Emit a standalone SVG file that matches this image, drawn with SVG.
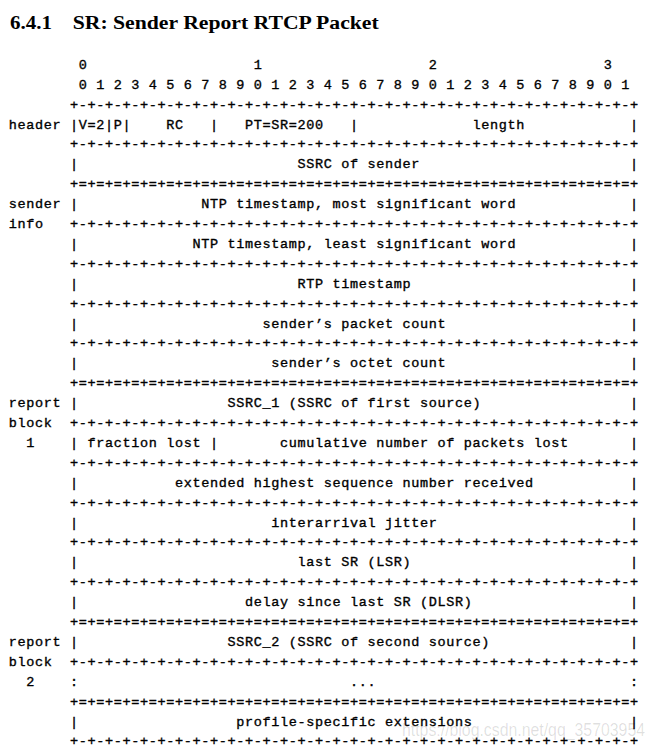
<svg xmlns="http://www.w3.org/2000/svg" xmlns:xlink="http://www.w3.org/1999/xlink" width="655" height="750" viewBox="0 0 655 750">
<style>
.m{font-family:"Liberation Mono","DejaVu Sans Mono",monospace;font-size:13.5px;letter-spacing:0.65px;fill:#000;stroke:#000;stroke-width:0.35px;white-space:pre}
.t{font-family:"Liberation Serif","Times New Roman",serif;font-size:18px;font-weight:bold;fill:#000}
.wm{font-family:"Liberation Sans",Arial,sans-serif;font-size:18px;fill:#000;fill-opacity:0.13}
</style>
<defs>
<text id="dash" class="m" x="69.95">+-+-+-+-+-+-+-+-+-+-+-+-+-+-+-+-+-+-+-+-+-+-+-+-+-+-+-+-+-+-+-+-+</text>
<text id="eq" class="m" x="69.95">+=+=+=+=+=+=+=+=+=+=+=+=+=+=+=+=+=+=+=+=+=+=+=+=+=+=+=+=+=+=+=+=+</text>
</defs>
<rect width="655" height="750" fill="#fff"/>
<g id="title">
<text class="t" x="10" y="29" textLength="42" lengthAdjust="spacingAndGlyphs">6.4.1</text>
<text class="t" x="72.7" y="29" textLength="306" lengthAdjust="spacingAndGlyphs">SR: Sender Report RTCP Packet</text>
</g>
<g id="bit-ruler">
<text class="m" x="78.7" y="68.8">0</text>
<text class="m" x="253.7" y="68.8">1</text>
<text class="m" x="428.7" y="68.8">2</text>
<text class="m" x="603.7" y="68.8">3</text>
<text class="m" x="78.7" y="88.7" xml:space="preserve">0 1 2 3 4 5 6 7 8 9 0 1 2 3 4 5 6 7 8 9 0 1 2 3 4 5 6 7 8 9 0 1</text>
</g>
<g id="connectors">
<use xlink:href="#dash" y="108.6"/>
<use xlink:href="#dash" y="148.4"/>
<use xlink:href="#eq" y="188.2"/>
<use xlink:href="#dash" y="228.0"/>
<use xlink:href="#dash" y="267.8"/>
<use xlink:href="#dash" y="307.6"/>
<use xlink:href="#dash" y="347.4"/>
<use xlink:href="#eq" y="387.2"/>
<use xlink:href="#dash" y="427.0"/>
<use xlink:href="#dash" y="466.8"/>
<use xlink:href="#dash" y="506.6"/>
<use xlink:href="#dash" y="546.4"/>
<use xlink:href="#dash" y="586.2"/>
<use xlink:href="#eq" y="626.0"/>
<use xlink:href="#dash" y="665.8"/>
<use xlink:href="#eq" y="705.6"/>
<use xlink:href="#dash" y="745.4"/>
</g>
<g id="labels">
<text class="m" x="8.7" y="128.5">header</text>
<text class="m" x="8.7" y="208.1">sender</text>
<text class="m" x="8.7" y="228.0">info</text>
<text class="m" x="8.7" y="407.1">report</text>
<text class="m" x="8.7" y="427.0">block</text>
<text class="m" x="26.2" y="446.9">1</text>
<text class="m" x="8.7" y="645.9">report</text>
<text class="m" x="8.7" y="665.8">block</text>
<text class="m" x="26.2" y="685.7">2</text>
</g>
<g id="row-header">
<text class="m" x="69.95" y="128.5">|V=2|P|</text>
<text class="m" x="166.2" y="128.5">RC</text>
<text class="m" x="209.95" y="128.5">|</text>
<text class="m" x="244.95" y="128.5">PT=SR=200</text>
<text class="m" x="349.95" y="128.5">|</text>
<text class="m" x="472.45" y="128.5">length</text>
<text class="m" x="629.95" y="128.5">|</text>
</g>
<g id="row-ssrc-sender">
<text class="m" x="69.95" y="168.3">|</text>
<text class="m" x="297.45" y="168.3">SSRC of sender</text>
<text class="m" x="629.95" y="168.3">|</text>
</g>
<g id="row-ntp-msw">
<text class="m" x="69.95" y="208.1">|</text>
<text class="m" x="201.2" y="208.1">NTP timestamp, most significant word</text>
<text class="m" x="629.95" y="208.1">|</text>
</g>
<g id="row-ntp-lsw">
<text class="m" x="69.95" y="247.9">|</text>
<text class="m" x="192.45" y="247.9">NTP timestamp, least significant word</text>
<text class="m" x="629.95" y="247.9">|</text>
</g>
<g id="row-rtp-ts">
<text class="m" x="69.95" y="287.7">|</text>
<text class="m" x="297.45" y="287.7">RTP timestamp</text>
<text class="m" x="629.95" y="287.7">|</text>
</g>
<g id="row-packet-count">
<text class="m" x="69.95" y="327.5">|</text>
<text class="m" x="262.45" y="327.5">sender’s packet count</text>
<text class="m" x="629.95" y="327.5">|</text>
</g>
<g id="row-octet-count">
<text class="m" x="69.95" y="367.3">|</text>
<text class="m" x="271.2" y="367.3">sender’s octet count</text>
<text class="m" x="629.95" y="367.3">|</text>
</g>
<g id="row-ssrc1">
<text class="m" x="69.95" y="407.1">|</text>
<text class="m" x="227.45" y="407.1">SSRC_1 (SSRC of first source)</text>
<text class="m" x="629.95" y="407.1">|</text>
</g>
<g id="row-fraction-lost">
<text class="m" x="69.95" y="446.9">|</text>
<text class="m" x="87.45" y="446.9">fraction lost</text>
<text class="m" x="209.95" y="446.9">|</text>
<text class="m" x="279.95" y="446.9">cumulative number of packets lost</text>
<text class="m" x="629.95" y="446.9">|</text>
</g>
<g id="row-ext-seq">
<text class="m" x="69.95" y="486.7">|</text>
<text class="m" x="174.95" y="486.7">extended highest sequence number received</text>
<text class="m" x="629.95" y="486.7">|</text>
</g>
<g id="row-jitter">
<text class="m" x="69.95" y="526.5">|</text>
<text class="m" x="271.2" y="526.5">interarrival jitter</text>
<text class="m" x="629.95" y="526.5">|</text>
</g>
<g id="row-lsr">
<text class="m" x="69.95" y="566.3">|</text>
<text class="m" x="297.45" y="566.3">last SR (LSR)</text>
<text class="m" x="629.95" y="566.3">|</text>
</g>
<g id="row-dlsr">
<text class="m" x="69.95" y="606.1">|</text>
<text class="m" x="244.95" y="606.1">delay since last SR (DLSR)</text>
<text class="m" x="629.95" y="606.1">|</text>
</g>
<g id="row-ssrc2">
<text class="m" x="69.95" y="645.9">|</text>
<text class="m" x="227.45" y="645.9">SSRC_2 (SSRC of second source)</text>
<text class="m" x="629.95" y="645.9">|</text>
</g>
<g id="row-more">
<text class="m" x="69.95" y="685.7">:</text>
<text class="m" x="349.95" y="685.7">...</text>
<text class="m" x="629.95" y="685.7">:</text>
</g>
<g id="row-profile-ext">
<text class="m" x="69.95" y="725.5">|</text>
<text class="m" x="236.2" y="725.5">profile-specific extensions</text>
<text class="m" x="629.95" y="725.5">|</text>
</g>
<text class="wm" x="402" y="736" textLength="243" lengthAdjust="spacingAndGlyphs">https://blog.csdn.net/qq_35703954</text>
</svg>
